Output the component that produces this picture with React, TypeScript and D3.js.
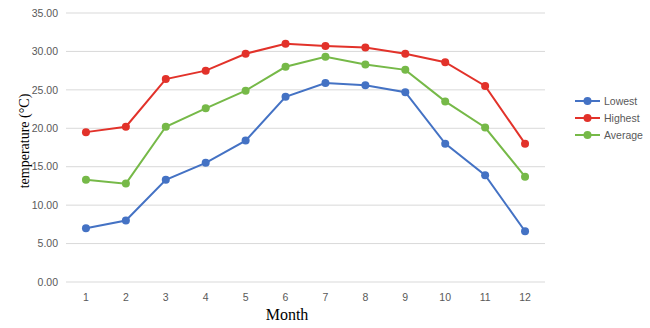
import React from "react";
import * as d3 from "d3";

const months = ["1", "2", "3", "4", "5", "6", "7", "8", "9", "10", "11", "12"];
const lowest = [7.0, 8.0, 13.3, 15.5, 18.4, 24.1, 25.9, 25.6, 24.7, 18.0, 13.9, 6.6];
const highest = [19.5, 20.2, 26.4, 27.5, 29.7, 31.0, 30.7, 30.5, 29.7, 28.6, 25.5, 18.0];
const average = [13.3, 12.8, 20.2, 22.6, 24.9, 28.0, 29.3, 28.3, 27.6, 23.5, 20.1, 13.7];
const yTicks = [0, 5, 10, 15, 20, 25, 30, 35];
const seriesNames = ["Lowest", "Highest", "Average"];
const seriesColors = ["#4472C4", "#E2322A", "#76B948"];

export default function App() {
  const W = 650, H = 328;
  const left = 66, right = 545, top = 13, bottom = 282;
  const x = d3.scaleBand<string>().domain(months).range([left, right]);
  const y = d3.scaleLinear().domain([0, 35]).range([bottom, top]);
  const line = d3
    .line<number>()
    .x((_, i) => (x(months[i]) as number) + x.bandwidth() / 2)
    .y((d) => y(d));
  const allSeries = [lowest, highest, average];
  const tickFont = "'Liberation Sans', Arial, sans-serif";
  return (
    <svg width={W} height={H} style={{ position: "absolute", left: 0, top: 0, background: "#fff" }}>
      <rect x={0} y={0} width={W} height={H} fill="#fff" />
      {yTicks.map((t) => (
        <g key={t}>
          <line x1={left} x2={right} y1={y(t)} y2={y(t)} stroke="#d9d9d9" strokeWidth={1} />
          <text x={58} y={y(t)} dy="0.35em" textAnchor="end" fontSize={10.5} fill="#595959" fontFamily={tickFont}>
            {t.toFixed(2)}
          </text>
        </g>
      ))}
      {months.map((m) => (
        <text
          key={m}
          x={(x(m) as number) + x.bandwidth() / 2}
          y={297}
          dy="0.35em"
          textAnchor="middle"
          fontSize={10.5}
          fill="#595959"
          fontFamily={tickFont}
        >
          {m}
        </text>
      ))}
      {allSeries.map((s, si) => (
        <g key={si}>
          <path d={line(s) || ""} fill="none" stroke={seriesColors[si]} strokeWidth={2} />
          {s.map((v, i) => (
            <circle
              key={i}
              cx={(x(months[i]) as number) + x.bandwidth() / 2}
              cy={y(v)}
              r={4}
              fill={seriesColors[si]}
            />
          ))}
        </g>
      ))}
      <text
        x={287}
        y={314}
        dy="0.35em"
        textAnchor="middle"
        fontSize={16}
        fill="#000"
        fontFamily="'Liberation Serif', 'Times New Roman', serif"
      >
        Month
      </text>
      <text
        transform={`translate(24,141) rotate(-90)`}
        dy="0.35em"
        textAnchor="middle"
        fontSize={14}
        fill="#000"
        fontFamily="'Liberation Serif', 'Times New Roman', serif"
      >
        temperature (°C)
      </text>
      {seriesNames.map((n, i) => (
        <g key={n} transform={`translate(0,${101 + i * 17})`}>
          <line x1={575} x2={600} y1={0} y2={0} stroke={seriesColors[i]} strokeWidth={2} />
          <circle cx={587.5} cy={0} r={4} fill={seriesColors[i]} />
          <text x={604} y={0} dy="0.35em" fontSize={10.5} fill="#595959" fontFamily={tickFont}>
            {n}
          </text>
        </g>
      ))}
    </svg>
  );
}
